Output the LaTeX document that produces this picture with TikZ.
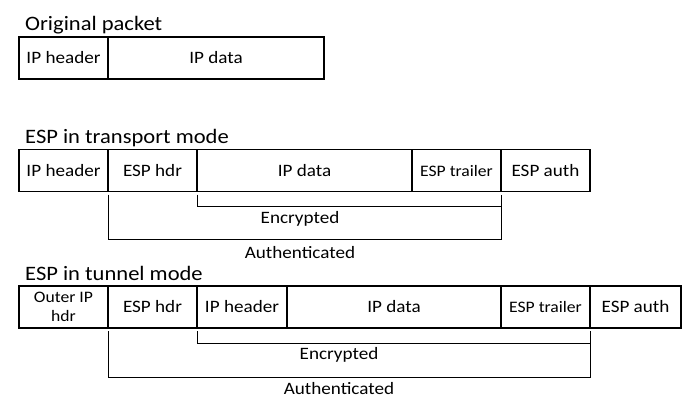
\documentclass[tikz,border=0pt]{standalone}
\usepackage{fontspec}
\setmainfont{Carlito}[FakeStretch=1.1]
\usetikzlibrary{positioning}
\tikzset{
  cell/.style={draw, line width=1.2pt, minimum height=42pt, minimum width=89pt,
    inner sep=0pt, outer sep=0pt, font=\fontsize{17.4}{19}\selectfont},
  smalltext/.style={font=\fontsize{16}{19}\selectfont},
  title/.style={anchor=base west, inner sep=0pt, font=\fontsize{20.5}{24}\selectfont},
  lbl/.style={anchor=base, inner sep=0pt, font=\fontsize{17.4}{19}\selectfont},
  brace/.style={line width=1pt}
}
\begin{document}
\begin{tikzpicture}[x=1pt,y=-1pt]
\useasboundingbox (0,0) rectangle (684,397);

% original packet
\node (t1) [title] at (25,30) {Original packet};
\node (oh) [cell, anchor=north west] at (19,37) {IP header};
\node (od) [cell, minimum width=216pt, right=0pt of oh] {IP data};

% transport mode
\node (t2) [title] at (25,143) {ESP in transport mode};
\node (th) [cell, anchor=north west] at (19,149.5) {IP header};
\node (tesp) [cell, right=0pt of th] {ESP hdr};
\node (tdata) [cell, minimum width=215pt, right=0pt of tesp] {IP data};
\node (ttrl) [cell, smalltext, right=0pt of tdata] {ESP trailer};
\node (tauth) [cell, right=0pt of ttrl] {ESP auth};

\draw[brace] ([yshift=-3pt]tdata.south west) -- ([yshift=-15pt]tdata.south west)
  -| ([yshift=-3pt]ttrl.south east);
\draw[brace] ([yshift=-3pt]tesp.south west) -- ([yshift=-48pt]tesp.south west)
  -| ([yshift=-3pt]ttrl.south east);
\node (tenc) [lbl] at (300,223) {Encrypted};
\node (tath) [lbl] at (300,258) {Authenticated};

% tunnel mode
\node (t3) [title] at (25,280) {ESP in tunnel mode};
\node (uo) [cell, smalltext, align=center, anchor=north west] at (19,286) {Outer IP\\hdr};
\node (uesp) [cell, right=0pt of uo] {ESP hdr};
\node (uh) [cell, minimum width=90pt, right=0pt of uesp] {IP header};
\node (udata) [cell, minimum width=214pt, right=0pt of uh] {IP data};
\node (utrl) [cell, smalltext, right=0pt of udata] {ESP trailer};
\node (uauth) [cell, minimum width=91pt, right=0pt of utrl] {ESP auth};

\draw[brace] ([yshift=-3pt]uh.south west) -- ([yshift=-15pt]uh.south west)
  -| ([yshift=-3pt]utrl.south east);
\draw[brace] ([yshift=-3pt]uesp.south west) -- ([yshift=-49pt]uesp.south west)
  -| ([yshift=-3pt]utrl.south east);
\node (uenc) [lbl] at (339,359.3) {Encrypted};
\node (uath) [lbl] at (339,394) {Authenticated};
\end{tikzpicture}
\end{document}
